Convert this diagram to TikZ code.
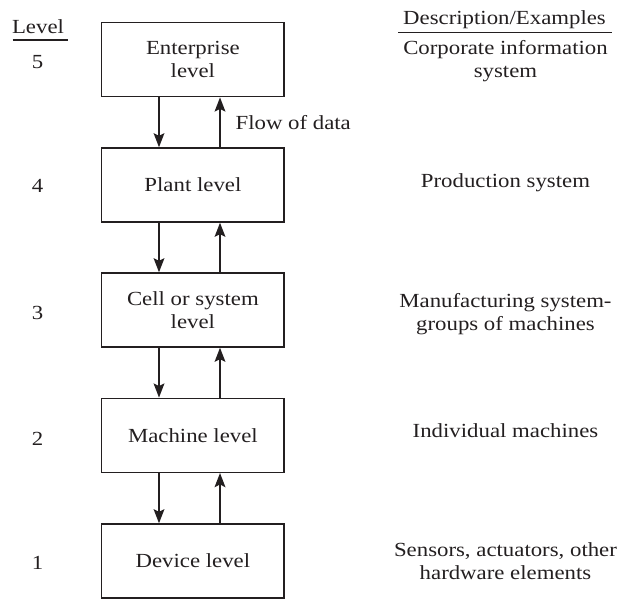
\documentclass[tikz,border=0pt]{standalone}
\usepackage{fontspec}
\setmainfont{Liberation Serif}[FakeStretch=1.14]
\usetikzlibrary{arrows.meta}
\definecolor{ink-dark}{RGB}{35, 31, 32}

\begin{document}
\begin{tikzpicture}[x=1pt, y=1pt, font=\fontsize{20}{23}\selectfont, text=ink-dark,
        levelbox/.style={draw=ink-dark, line width=1.3pt, minimum width=182.3pt, minimum height=74pt, align=center, inner sep=0pt},
        flowarrow/.style={draw=ink-dark, line width=2.6pt, -{Stealth[length=14pt, width=10.5pt, inset=2.5pt]}},
        plaintext/.style={inner sep=0pt, align=center},
        headrule/.style={draw=ink-dark, line width=1.3pt}]
                \useasboundingbox (0, 0) rectangle (623, 598);
                % the five levels
                \node[levelbox] (enterprise) at (192.9, 538.3) {Enterprise\\level};
                \node[levelbox] (plant) at (192.9, 413) {Plant level};
                \node[levelbox] (cell) at (192.9, 288) {Cell or system\\level};
                \node[levelbox] (machine) at (192.9, 162.7) {Machine level};
                \node[levelbox] (device) at (192.9, 37) {Device level};
                % data going down and up
                \draw[flowarrow] ([xshift=-33.9pt]enterprise.south) -- ([xshift=-33.9pt]plant.north);
                \draw[flowarrow] ([xshift=27.1pt]plant.north) -- node[midway, right=14.3pt, plaintext]{Flow of data} ([xshift=27.1pt]enterprise.south);
                \draw[flowarrow] ([xshift=-33.9pt]plant.south) -- ([xshift=-33.9pt]cell.north);
                \draw[flowarrow] ([xshift=27.1pt]cell.north) -- ([xshift=27.1pt]plant.south);
                \draw[flowarrow] ([xshift=-33.9pt]cell.south) -- ([xshift=-33.9pt]machine.north);
                \draw[flowarrow] ([xshift=27.1pt]machine.north) -- ([xshift=27.1pt]cell.south);
                \draw[flowarrow] ([xshift=-33.9pt]machine.south) -- ([xshift=-33.9pt]device.north);
                \draw[flowarrow] ([xshift=27.1pt]device.north) -- ([xshift=27.1pt]machine.south);
                % level numbers
                \node[plaintext, anchor=base] (level-head) at (38, 564.7) {Level};
                \draw[headrule] (12.7, 558) -- (67.7, 558);
                \node[plaintext, anchor=base] (lvl5) at (37.5, 529.7) {5};
                \node[plaintext, anchor=base] (lvl4) at (37.5, 405.3) {4};
                \node[plaintext, anchor=base] (lvl3) at (37.5, 279) {3};
                \node[plaintext, anchor=base] (lvl2) at (37.5, 153) {2};
                \node[plaintext, anchor=base] (lvl1) at (37.5, 29) {1};
                % descriptions
                \node[plaintext, anchor=base] (desc-head) at (504.5, 573) {Description/Examples};
                \draw[headrule] (398, 565.7) -- (611.7, 565.7);
                \node[plaintext] (desc5) at (505.5, 537.2) {Corporate information\\system};
                \node[plaintext, anchor=base] (desc4) at (505.5, 410) {Production system};
                \node[plaintext] (desc3) at (505.5, 283.7) {Manufacturing system-\\groups of machines};
                \node[plaintext, anchor=base] (desc2) at (505.5, 160.7) {Individual machines};
                \node[plaintext] (desc1) at (505.5, 36.8) {Sensors, actuators, other\\hardware elements};
            \end{tikzpicture}
\end{document}
